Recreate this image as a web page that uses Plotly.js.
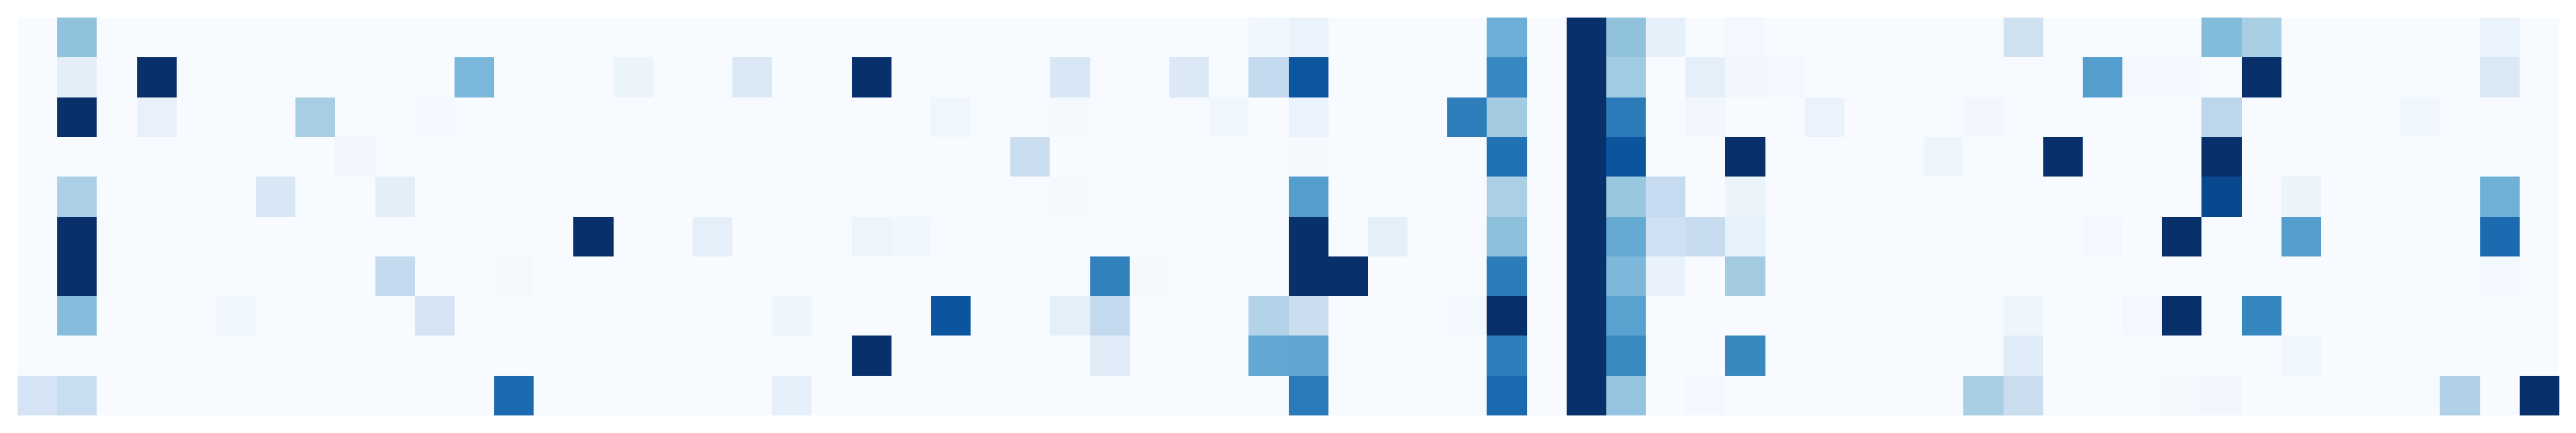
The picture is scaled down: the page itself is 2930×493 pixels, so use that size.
<!DOCTYPE html>
<html>
<head>
<meta charset="utf-8">
<script src="https://cdn.plot.ly/plotly-3.0.1.min.js"></script>
<style>html,body{margin:0;padding:0;background:#ffffff;}#chart{width:2930px;height:493px;}</style>
</head>
<body>
<div id="chart"></div>
<script>
// Column and row categories
var columns = [0,1,2,3,4,5,6,7,8,9,10,11,12,13,14,15,16,17,18,19,20,21,22,23,24,25,26,27,28,29,30,31,
               32,33,34,35,36,37,38,39,40,41,42,43,44,45,46,47,48,49,50,51,52,53,54,55,56,57,58,59,60,61,62,63];
var rows = [0,1,2,3,4,5,6,7,8,9];

// Cell values, one array per row (top to bottom)
var row0 = [0,0.41,0,0,0,0,0,0, 0,0,0,0,0,0,0,0, 0,0,0,0,0,0,0,0, 0,0,0,0,0,0,0,0.035,
            0.065,0,0,0,0,0.5,0,1, 0.41,0.085,0,0.02,0,0,0,0, 0,0,0.2,0,0,0,0,0.44, 0.34,0,0,0,0,0,0.065,0];
var row1 = [0,0.1,0,1,0,0,0,0, 0,0,0,0.46,0,0,0,0.06, 0,0,0.14,0,0,1,0,0, 0,0,0.155,0,0,0.14,0,0.26,
            0.855,0,0,0,0,0.667,0,1, 0.37,0,0.095,0.03,0.02,0,0,0, 0,0,0,0,0.57,0.02,0.02,0, 1,0,0,0,0,0,0.145,0];
var row2 = [0,1,0,0.075,0,0,0,0.344, 0,0,0.02,0,0,0,0,0, 0,0,0,0,0,0,0,0.04, 0,0,0.015,0,0,0,0.035,0,
            0.065,0,0,0,0.7,0.36,0,1, 0.71,0,0.03,0,0,0.065,0,0, 0,0.03,0,0,0,0,0,0.28, 0,0,0,0,0.035,0,0,0];
var row3 = [0,0,0,0,0,0,0,0, 0.03,0,0,0,0,0,0,0, 0,0,0,0,0,0,0,0, 0,0.23,0,0,0,0,0,0,
            0.012,0,0,0,0,0.75,0,1, 0.86,0,0,1,0,0,0,0, 0.045,0,0,1,0,0,0,1, 0,0,0,0,0,0,0,0];
var row4 = [0,0.334,0,0,0,0,0.156,0, 0,0.1,0,0,0,0,0,0, 0,0,0,0,0,0,0,0, 0,0,0.015,0,0,0,0,0,
            0.57,0,0,0,0,0.334,0,1, 0.39,0.25,0,0.06,0,0,0,0, 0,0,0,0,0,0,0,0.91, 0,0.06,0,0,0,0,0.49,0];
var row5 = [0,1,0,0,0,0,0,0, 0,0,0,0,0,0,1,0, 0,0.095,0,0,0,0.05,0.035,0, 0,0,0,0,0,0,0,0,
            1,0,0.095,0,0,0.42,0,1, 0.52,0.21,0.245,0.08,0,0,0,0, 0,0,0,0,0.02,0,1,0, 0,0.57,0,0,0,0,0.775,0];
var row6 = [0,1,0,0,0,0,0,0, 0,0.256,0,0,0.015,0,0,0, 0,0,0,0,0,0,0,0, 0,0,0,0.69,0.015,0,0,0,
            1,1,0,0,0,0.71,0,1, 0.456,0.07,0,0.36,0,0,0,0, 0,0,0,0,0,0,0,0, 0,0,0,0,0,0,0.02,0];
var row7 = [0,0.436,0,0,0,0.035,0,0, 0,0,0.177,0,0,0,0,0, 0,0,0,0.045,0,0,0,0.86, 0,0,0.09,0.26,0,0,0,0.3125,
            0.23,0,0,0,0.02,1,0,1, 0.555,0,0,0,0,0,0,0, 0,0,0.045,0,0,0.025,1,0, 0.67,0,0,0,0,0,0,0];
var row8 = [0,0,0,0,0,0,0,0, 0,0,0,0,0,0,0,0, 0,0,0,0,0,1,0,0, 0,0,0,0.12,0,0,0,0.527,
            0.537,0,0,0,0,0.7,0,1, 0.655,0,0,0.66,0,0,0,0, 0,0,0.12,0,0,0,0,0, 0,0.035,0,0,0,0,0,0];
var row9 = [0.177,0.235,0,0,0,0,0,0, 0,0,0,0,0.775,0,0,0, 0,0,0,0.085,0,0,0,0, 0,0,0,0,0,0,0,0,
            0.712,0,0,0,0,0.78,0,1, 0.4,0,0.02,0,0,0,0,0, 0,0.34,0.23,0,0,0,0.015,0.03, 0,0,0,0,0,0.32,0,1];

var blues = [
  [0, 'rgb(247,251,255)'], [0.125, 'rgb(222,235,247)'], [0.25, 'rgb(198,219,239)'],
  [0.375, 'rgb(158,202,225)'], [0.5, 'rgb(107,174,214)'], [0.625, 'rgb(66,146,198)'],
  [0.75, 'rgb(33,113,181)'], [0.875, 'rgb(8,81,156)'], [1, 'rgb(8,48,107)']
];

var trace = {
  type: 'heatmap',
  x: columns,
  y: rows,
  z: [row0, row1, row2, row3, row4, row5, row6, row7, row8, row9],
  colorscale: blues,
  zmin: 0,
  zmax: 1,
  showscale: false,
  xgap: 0,
  ygap: 0
};

var layout = {
  width: 2930,
  height: 493,
  margin: {l: 20, r: 19, t: 20, b: 20, pad: 0},
  paper_bgcolor: '#ffffff',
  plot_bgcolor: '#ffffff',
  xaxis: {showgrid: false, zeroline: false, showticklabels: false, ticks: '', showline: false},
  yaxis: {showgrid: false, zeroline: false, showticklabels: false, ticks: '', showline: false, autorange: 'reversed'},
  showlegend: false
};

Plotly.newPlot('chart', [trace], layout, {displayModeBar: false, staticPlot: true});
</script>
</body>
</html>
